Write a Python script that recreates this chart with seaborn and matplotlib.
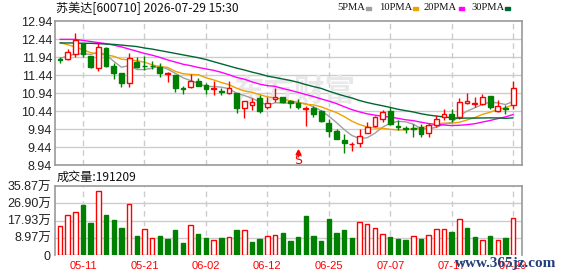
import numpy as np
import pandas as pd
import matplotlib
matplotlib.use("Agg")
import matplotlib.pyplot as plt
from matplotlib.patches import Rectangle
import seaborn as sns

# ---------------- data ----------------
opens = [11.88, 11.88, 12.02, 12.32, 11.97, 11.63, 12.18, 11.69, 11.49, 11.21,
         11.81, 11.70, 11.70, 11.67, 11.48, 11.44, 11.08, 11.10, 11.27, 11.16,
         11.06, 10.99, 10.93, 10.93, 10.51, 10.61, 10.79, 10.54, 10.77, 10.82,
         10.73, 10.65, 10.50, 10.51, 10.45, 10.10, 9.89, 9.63, 9.51, 9.56,
         9.84, 10.02, 10.21, 10.45, 10.02, 9.96, 9.98, 9.99, 9.84, 10.05,
         10.28, 10.35, 10.28, 10.65, 10.64, 10.63, 10.86, 10.45, 10.52, 10.61]
highs = [11.93, 12.17, 12.60, 12.33, 11.98, 12.34, 12.23, 11.78, 11.50, 12.04,
         11.93, 11.97, 11.84, 11.76, 11.51, 11.45, 11.13, 11.47, 11.35, 11.23,
         11.27, 11.07, 11.26, 10.95, 10.73, 10.79, 10.88, 10.82, 11.07, 10.83,
         10.75, 10.77, 10.58, 10.58, 10.46, 10.22, 9.93, 9.80, 9.59, 9.93,
         10.14, 10.29, 10.47, 10.54, 10.19, 10.01, 10.08, 10.08, 10.10, 10.33,
         10.49, 10.49, 10.79, 10.93, 10.82, 10.91, 10.87, 10.75, 10.61, 11.26]
lows = [11.77, 11.86, 11.95, 11.93, 11.63, 11.56, 11.67, 11.32, 11.12, 11.10,
        11.63, 11.58, 11.60, 11.39, 11.25, 10.98, 10.91, 11.07, 11.14, 10.91,
        10.88, 10.88, 10.91, 10.39, 10.25, 10.47, 10.39, 10.49, 10.70, 10.65,
        10.51, 10.49, 10.01, 10.27, 10.14, 9.73, 9.65, 9.28, 9.34, 9.45,
        9.82, 10.00, 10.14, 10.05, 9.91, 9.82, 9.73, 9.73, 9.73, 10.00,
        10.19, 10.14, 10.21, 10.64, 10.54, 10.61, 10.49, 10.42, 10.36, 10.49]
closes = [11.86, 12.09, 12.41, 12.02, 11.67, 12.21, 11.70, 11.49, 11.21, 11.90,
          11.67, 11.68, 11.68, 11.50, 11.49, 11.09, 11.06, 11.28, 11.14, 11.04,
          11.08, 10.97, 11.07, 10.51, 10.72, 10.70, 10.45, 10.65, 10.82, 10.70,
          10.65, 10.54, 10.52, 10.36, 10.17, 9.89, 9.65, 9.56, 9.53, 9.75,
          10.00, 10.27, 10.41, 10.08, 10.00, 9.94, 9.94, 9.80, 10.05, 10.21,
          10.35, 10.21, 10.70, 10.72, 10.66, 10.82, 10.54, 10.58, 10.50, 11.07]

# volume in 万 shares
volumes = [15.0, 20.7, 22.1, 25.9, 16.7, 33.1, 20.7, 18.1, 14.1, 26.7,
           9.8, 13.3, 8.6, 9.8, 8.3, 12.9, 6.4, 15.5, 10.9, 9.0,
           7.8, 9.0, 9.3, 12.9, 12.8, 6.9, 8.3, 9.8, 10.4, 11.6,
           7.4, 9.5, 20.2, 9.8, 7.4, 18.6, 11.6, 12.9, 8.8, 16.9,
           15.9, 13.8, 10.7, 9.3, 8.3, 7.8, 9.7, 8.3, 10.2, 13.3,
           13.3, 11.9, 18.5, 14.0, 9.3, 7.6, 9.8, 7.8, 8.6, 19.1209]
# volume bar colour as shown (1 = red / up, 0 = green / down)
vol_up = [1, 1, 1, 0, 0, 1, 0, 0, 0, 1,
          0, 1, 1, 0, 0, 0, 0, 1, 0, 0,
          1, 0, 1, 0, 1, 0, 0, 1, 1, 0,
          0, 0, 0, 0, 0, 0, 0, 0, 0, 1,
          1, 1, 1, 0, 0, 0, 1, 0, 1, 1,
          1, 0, 1, 0, 0, 1, 0, 1, 0, 1]
# candle colour as shown (1 = red, 0 = green)
candle_up = [0, 1, 1, 0, 0, 1, 0, 0, 0, 1,
             0, 0, 0, 0, 1, 0, 0, 1, 0, 0,
             1, 0, 1, 0, 1, 1, 0, 1, 1, 0,
             0, 0, 1, 0, 0, 0, 0, 0, 1, 1,
             1, 1, 1, 0, 0, 0, 0, 0, 1, 1,
             1, 0, 1, 1, 1, 1, 0, 1, 0, 1]

# moving-average values before a full window exists
ma5_head = [11.90, 11.97, 12.02, 12.03]
ma10_head = [12.34, 12.28, 12.22, 12.14, 12.06, 12.02, 12.00, 11.96, 11.88]
ma20_head = [12.43, 12.43, 12.43, 12.40, 12.37, 12.34, 12.31, 12.27, 12.22, 12.16,
             12.10, 12.04, 11.99, 11.93, 11.86, 11.80, 11.74, 11.70, 11.65]
ma30_head = [12.33, 12.33, 12.33, 12.32, 12.32, 12.31, 12.30, 12.29, 12.27, 12.25,
             12.23, 12.19, 12.16, 12.12, 12.08, 12.04, 12.00, 11.96, 11.92, 11.87,
             11.81, 11.75, 11.69, 11.63, 11.58, 11.52, 11.47, 11.41, 11.37]

tick_labels = ["05-11", "05-21", "06-02", "06-12", "06-25", "07-07", "07-17", "07-29"]
tick_bars = [3, 11, 19, 27, 35, 43, 51, 59]

price_ticks = [8.94, 9.44, 9.94, 10.44, 10.94, 11.44, 11.94, 12.44, 12.94]
vol_ticks = [0, 8.97, 17.93, 26.90, 35.87]
vol_tick_labels = ["0", "8.97万", "17.93万", "26.90万", "35.87万"]

title_text = "苏美达[600710] 2026-07-29 15:30"
vol_title = "成交量:191209"
ma_names = ["5PMA", "10PMA", "20PMA", "30PMA"]
signal_bar = 31
signal_text = "S"

# ---------------- styling ----------------
sns.set_theme(style="white")
plt.rcParams["font.family"] = ["Liberation Sans", "Noto Sans CJK SC", "DejaVu Sans"]

RED = "#ff0000"
GREEN = "#008000"
GRID = "#cccccc"
BORDER = "#999999"
ma_colors = ["#a0a0a0", "#f0a000", "#ff00ff", "#006633"]

n = len(closes)
idx = np.arange(n)
cl = pd.Series(closes)


def ma_series(window, head):
    s = cl.rolling(window).mean().to_numpy()
    s[: len(head)] = head
    return s


df_ma = pd.DataFrame({
    "bar": np.tile(idx, 4),
    "value": np.concatenate([ma_series(5, ma5_head), ma_series(10, ma10_head),
                             ma_series(20, ma20_head), ma_series(30, ma30_head)]),
    "ma": np.repeat(ma_names, n),
})

W, H = 578, 276
fig = plt.figure(figsize=(W / 100, H / 100), dpi=100)
fig.patch.set_facecolor("white")


def fx(px):
    return px / W


def fy(py):
    return 1 - py / H


ax = fig.add_axes([fx(55), fy(165), fx(522) - fx(55), fy(21) - fy(165)])
axv = fig.add_axes([fx(55), fy(255), fx(522) - fx(55), fy(186) - fy(255)])

xlim = (-0.65, 60.15)

# ---- price panel ----
ax.set_xlim(*xlim)
ax.set_ylim(8.94, 12.94)
ax.set_yticks(price_ticks)
ax.set_yticklabels([f"{v:.2f}" for v in price_ticks], fontsize=9)
ax.set_xticks([])
for y in price_ticks[1:-1]:
    ax.axhline(y, color=GRID, lw=1.0, zorder=0.5)
for b in tick_bars:
    ax.axvline(b, color=GRID, lw=1.0, ls=(0, (4, 3)), zorder=0.5)

ax.text(30.5, 10.97, "东方财富", fontsize=22, fontweight="bold", color="#e8e8e8",
        ha="center", va="center", zorder=0.6, family=["Noto Sans CJK SC", "DejaVu Sans"])

sns.lineplot(data=df_ma, x="bar", y="value", hue="ma", palette=ma_colors,
             hue_order=ma_names, lw=1.0, ax=ax, legend=False, zorder=2)

o = np.array(opens); c = np.array(closes); h = np.array(highs); l = np.array(lows)
cols = [RED if u else GREEN for u in candle_up]
ax.vlines(idx, l, h, colors=cols, lw=1.0, zorder=3)
body_bottom = np.minimum(o, c)
body_h = np.maximum(np.abs(c - o), 0.012)
faces = ["white" if u else GREEN for u in candle_up]
ax.bar(idx, body_h, bottom=body_bottom, width=0.62, color=faces, edgecolor=cols,
       linewidth=1.0, zorder=4)

# sell signal marker
ax.plot([signal_bar], [9.31], marker="^", ms=3.5, color=RED, zorder=5, clip_on=False)
ax.vlines([signal_bar], 9.17, 9.29, colors=RED, lw=1.0, zorder=5)
ax.text(signal_bar, 9.07, signal_text, color=RED, fontsize=9, ha="center", va="center",
        zorder=5, family=["DejaVu Sans"])

for sp in ax.spines.values():
    sp.set_color(BORDER)
    sp.set_linewidth(1.2)
ax.tick_params(axis="y", length=0, pad=2, colors="#222222")
ax.set_xlabel("")
ax.set_ylabel("")

# ---- volume panel ----
axv.set_xlim(*xlim)
axv.set_ylim(0, 35.87)
vcols = [RED if u else GREEN for u in vol_up]
vfaces = ["white" if u else GREEN for u in vol_up]
axv.bar(idx, volumes, width=0.58, color=vfaces, edgecolor=vcols, linewidth=1.0, zorder=3)
for y in vol_ticks[1:-1]:
    axv.axhline(y, color=GRID, lw=1.0, zorder=0.5)
for b in tick_bars:
    axv.axvline(b, color=GRID, lw=1.0, ls=(0, (4, 3)), zorder=0.5)
axv.set_yticks(vol_ticks)
axv.set_yticklabels(vol_tick_labels, fontsize=9)
axv.set_xticks(tick_bars)
axv.set_xticklabels(tick_labels, fontsize=8, color=RED)
axv.tick_params(axis="both", length=0, pad=3, colors="#222222")
axv.tick_params(axis="x", colors=RED, pad=4)
for lab in axv.get_yticklabels():
    lab.set_family(["Liberation Sans", "Noto Sans CJK SC"])
for name, sp in axv.spines.items():
    sp.set_color(BORDER)
    sp.set_linewidth(1.2)
axv.spines["bottom"].set_visible(False)
axv.set_xlabel("")
axv.set_ylabel("")

# ---- header texts ----
fig.text(fx(56), fy(8), title_text, fontsize=8.7, va="center", ha="left", color="#111111",
         family=["Noto Sans CJK SC", "DejaVu Sans"])
fig.text(fx(57), fy(177), vol_title, fontsize=8.7, va="center", ha="left", color="#111111",
         family=["Noto Sans CJK SC", "DejaVu Sans"])

leg_x = [337, 379, 424, 471]
sw_x = [366, 413, 459, 505]
for name, col, lx, sx in zip(ma_names, ma_colors, leg_x, sw_x):
    fig.text(fx(lx), fy(8), name, fontsize=7.6, va="center", ha="left", color="#111111",
             family=["Liberation Serif"])
    fig.patches.append(Rectangle((fx(sx), fy(10)), fx(5), 3 / H, transform=fig.transFigure,
                                 color=col, figure=fig))

fig.text(fx(455), fy(263), "www.365jz.com", fontsize=11, fontweight="bold", va="center",
         ha="left", color="#23407a", family=["Liberation Serif"])

fig.savefig("out.png", dpi=100, facecolor="white")
